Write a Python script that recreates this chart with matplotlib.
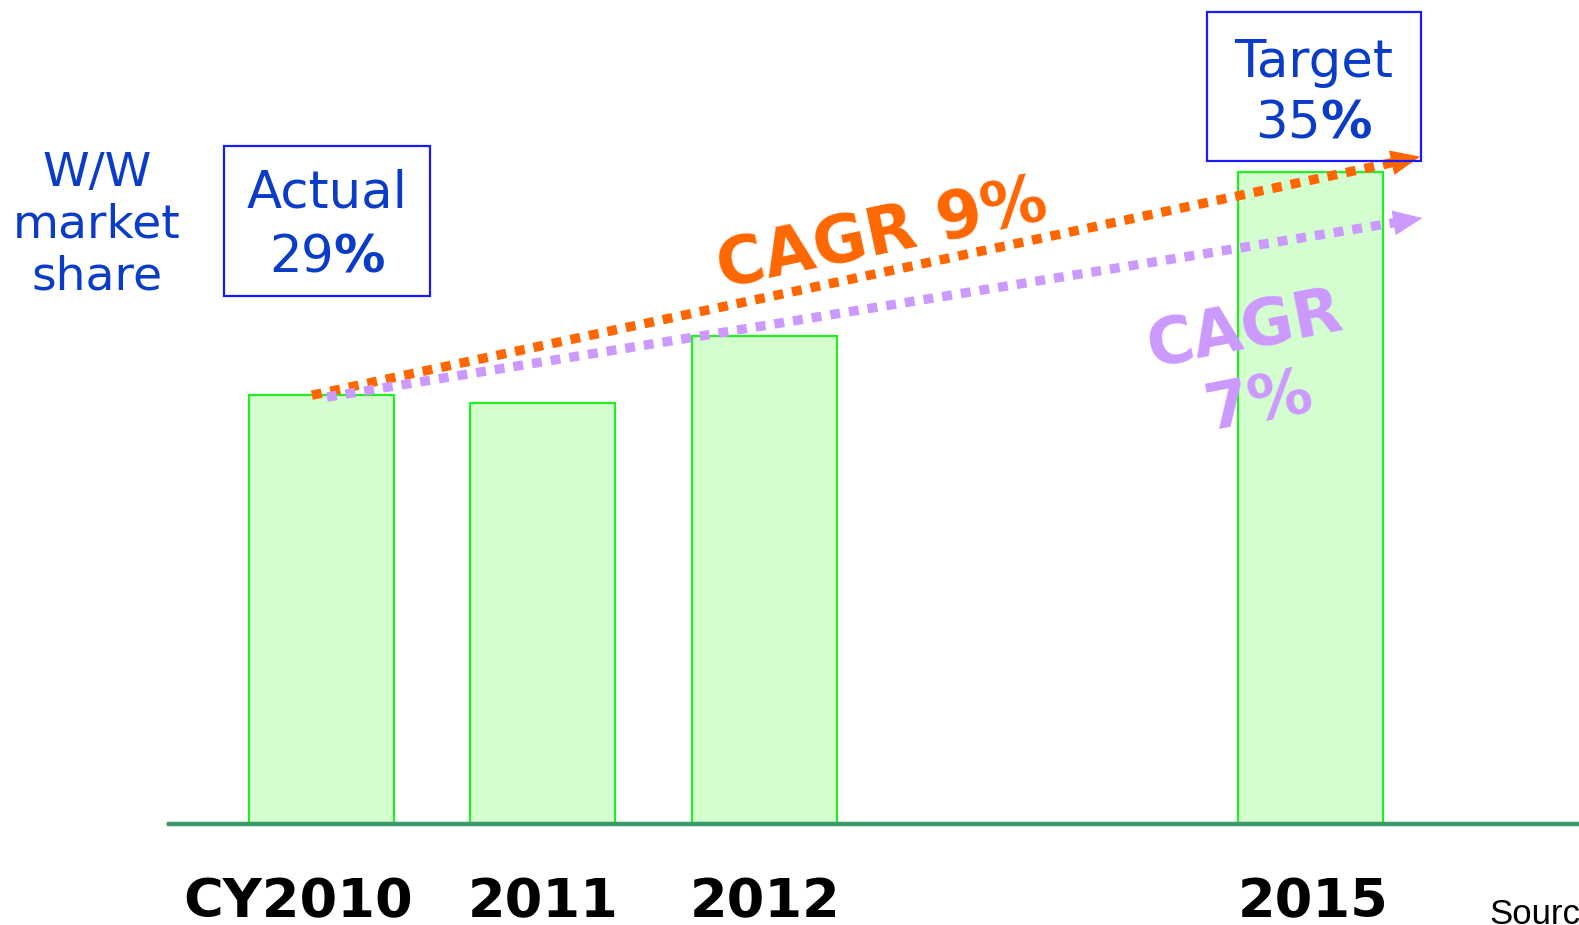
import numpy as np
import matplotlib
matplotlib.use("Agg")
from matplotlib import pyplot as plt
from matplotlib.patches import Rectangle
from matplotlib.transforms import blended_transform_factory

# market share per year (%)
years = ['CY2010', '2011', '2012', '2015']
share = [29.0, 28.8, 30.6, 35.0]

# CAGR trend arrows: start share, end share
cagr_labels = ['CAGR 9%', 'CAGR\n7%']
cagr_start = [29.0, 28.95]
cagr_end = [35.4, 33.75]

W, H = 1579, 925
BLUE = '#0a3cc8'
ORANGE = '#ff6600'
PURPLE = '#cc99ff'

def fx(px):
    return px / W

def fy(py):
    return 1 - py / H

fig = plt.figure(figsize=(W / 100, H / 100), dpi=100)
ax = fig.add_axes([fx(169), fy(824), 1 - fx(169), fy(0) - fy(824)])

xpos = np.array([0, 1, 2, 4.465])
base = 17.5
ax.set_xlim(-0.688, 5.677)
ax.set_ylim(base, 39.6)

ax.bar(xpos, np.array(share) - base, bottom=base, width=0.655,
       color='#d4fdd0', edgecolor='#22ee22', linewidth=1.6, zorder=2)
ax.axhline(base, color='#3a9a6a', linewidth=3.2, zorder=3, clip_on=False)

for s in ax.spines.values():
    s.set_visible(False)
ax.set_xticks([])
ax.set_yticks([])

# dotted CAGR arrows, line stops where the head begins
arrow_x0 = [-0.043, 0.025]
arrow_x1 = [4.96, 4.97]
head_dx = 0.125
for col, y0, y1, x0, x1 in zip([ORANGE, PURPLE], cagr_start, cagr_end, arrow_x0, arrow_x1):
    slope = (y1 - y0) / (x1 - x0)
    xe = x1 - head_dx
    ye = y1 - head_dx * slope
    ax.plot([x0, xe], [y0, ye], color=col, linewidth=6.8,
            dashes=(1.05, 0.95), solid_capstyle='butt', dash_capstyle='butt', zorder=4)
    ax.annotate('', xy=(x1, y1), xytext=(xe - 0.02, ye - 0.02 * slope),
                arrowprops=dict(arrowstyle='-|>,head_length=2.1,head_width=0.9',
                                color=col, lw=0, shrinkA=0, shrinkB=0), zorder=5)

fig.text(fx(882), fy(236), cagr_labels[0], color=ORANGE, fontsize=47, fontweight='bold',
         rotation=12, rotation_mode='anchor', ha='center', va='center')
fig.text(fx(1252), fy(366), cagr_labels[1], color=PURPLE, fontsize=46, fontweight='bold',
         rotation=11, rotation_mode='anchor', ha='center', va='center', linespacing=1.22,
         multialignment='center')

# y label
fig.text(fx(97), fy(225), 'W/W\nmarket\nshare', color=BLUE, fontsize=34,
         ha='center', va='center', linespacing=1.2)

# value boxes
fig.patches.append(Rectangle((fx(224), fy(296)), fx(430) - fx(224), fy(146) - fy(296),
                             transform=fig.transFigure, fill=False, edgecolor='#1a1aff', linewidth=1.6))
fig.text(fx(327), fy(193), 'Actual', color=BLUE, fontsize=37, ha='center', va='center')
fig.text(fx(327), fy(257), '%d$\\mathbf{\\%%}$' % share[0], color=BLUE, fontsize=37,
         ha='center', va='center')

fig.patches.append(Rectangle((fx(1207), fy(161)), fx(1421) - fx(1207), fy(12) - fy(161),
                             transform=fig.transFigure, fill=False, edgecolor='#1a1aff', linewidth=1.6))
fig.text(fx(1314), fy(63), 'Target', color=BLUE, fontsize=37, ha='center', va='center')
fig.text(fx(1314), fy(124), '%d$\\mathbf{\\%%}$' % share[3], color=BLUE, fontsize=37,
         ha='center', va='center')

# year labels under the bars
trans = blended_transform_factory(ax.transData, fig.transFigure)
label_shift = [-0.105, 0, 0.005, 0.01]
for x, lab, dx in zip(xpos, years, label_shift):
    ax.text(x + dx, fy(917), lab, transform=trans, fontsize=39, fontweight='bold',
            color='black', ha='center', va='baseline', clip_on=False)

fig.text(fx(1489), fy(924), 'Source:', fontsize=25, family='Liberation Sans',
         ha='left', va='baseline', color='black')

fig.savefig('out.png', dpi=100)
